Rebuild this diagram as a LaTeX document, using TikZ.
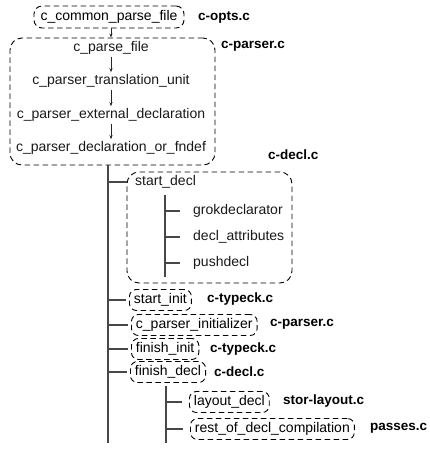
\documentclass[tikz,border=0pt]{standalone}
\usepackage{fontspec}
\setmainfont{Liberation Sans}
\usetikzlibrary{arrows.meta}
\begin{document}
\begin{tikzpicture}[x=1pt,y=-1pt,
  font=\fontsize{14pt}{16pt}\selectfont,
  box/.style={draw=black, line width=0.9pt, dash pattern=on 5.5pt off 3.5pt, rounded corners=8pt},
  sbox/.style={box, anchor=west, inner xsep=4.5pt, inner ysep=0pt, minimum height=21pt, rounded corners=7pt},
  txt/.style={inner sep=2pt, text=black!90},
  lbl/.style={anchor=west, inner sep=0pt, font=\fontsize{13.5pt}{16pt}\selectfont\bfseries},
  tree/.style={draw=black!72, line width=1.3pt},
  arr/.style={draw=black!85, line width=0.7pt, -{Stealth[length=4pt,width=3pt]}}]
\useasboundingbox (0,0) rectangle (430,450);

% c-opts
\node[box, minimum width=150pt, minimum height=22pt, inner sep=0pt] (common) at (109,17) {c\_common\_parse\_file};
\node[lbl] (lopts) at (198,17) {c-opts.c};

% c-parser group
\node[box, minimum width=205pt, minimum height=127pt, rounded corners=12pt] (grp) at (112.5,101.5) {};
\node[txt] (t1) at (111,48) {c\_parse\_file};
\node[txt] (t2) at (111,81) {c\_parser\_translation\_unit};
\node[txt] (t3) at (111,115) {c\_parser\_external\_declaration};
\node[txt] (t4) at (111,148) {c\_parser\_declaration\_or\_fndef};
\node[lbl] (lparser) at (221,46) {c-parser.c};
\draw[arr] (common.south -| t1) -- (grp.north -| t1);
\draw[arr] (t1) -- (t2);
\draw[arr] (t2) -- (t3);
\draw[arr] (t3) -- (t4);

% main line
\coordinate (mainend) at (108,443);
\draw[tree] (grp.south -| mainend) -- (mainend);

% c-decl group
\node[lbl] (ldecl) at (268,155) {c-decl.c};
\node[box, minimum width=165pt, minimum height=111pt, rounded corners=12pt] (sdbox) at (209.5,227.5) {};
\node[txt, anchor=west] (sd) at (133,182) {start\_decl};
\draw[tree] (mainend |- sd.west) -- (sdbox.west |- sd.west);
\coordinate (sdtop) at (165,195);
\coordinate (sdbot) at (165,277);
\draw[tree] (sdtop) -- (sdbot);
\node[txt, anchor=west] (g1) at (191,211) {grokdeclarator};
\node[txt, anchor=west] (g2) at (191,237) {decl\_attributes};
\node[txt, anchor=west] (g3) at (191,263) {pushdecl};
\foreach \n in {g1,g2,g3}
  \draw[tree] (sdtop |- \n.west) -- ([xshift=-11pt]\n.west);

% other calls
\node[sbox] (si) at (129,300) {start\_init};
\node[lbl] (lsi) at (207,299) {c-typeck.c};
\node[sbox] (cpi) at (131,325) {c\_parser\_initializer};
\node[lbl] (lcpi) at (270,324) {c-parser.c};
\node[sbox] (fi) at (131,349) {finish\_init};
\node[lbl] (lfi) at (210,349) {c-typeck.c};
\node[sbox] (fd) at (130,372) {finish\_decl};
\node[lbl] (lfd) at (214,372) {c-decl.c};
\foreach \n in {si,cpi,fi,fd}
  \draw[tree] (mainend |- \n.west) -- ([xshift=-3pt]\n.west);

\coordinate (fdend) at (166,443);
\draw[tree] (fd.south -| fdend) ++(0,3) -- (fdend);
\node[sbox] (ld) at (189,402) {layout\_decl};
\node[lbl] (lld) at (283,401) {stor-layout.c};
\node[sbox] (rd) at (190,429) {rest\_of\_decl\_compilation};
\node[lbl] (lrd) at (370,428) {passes.c};
\foreach \n in {ld,rd}
  \draw[tree] (fdend |- \n.west) -- ([xshift=-7pt]\n.west);
\end{tikzpicture}
\end{document}
